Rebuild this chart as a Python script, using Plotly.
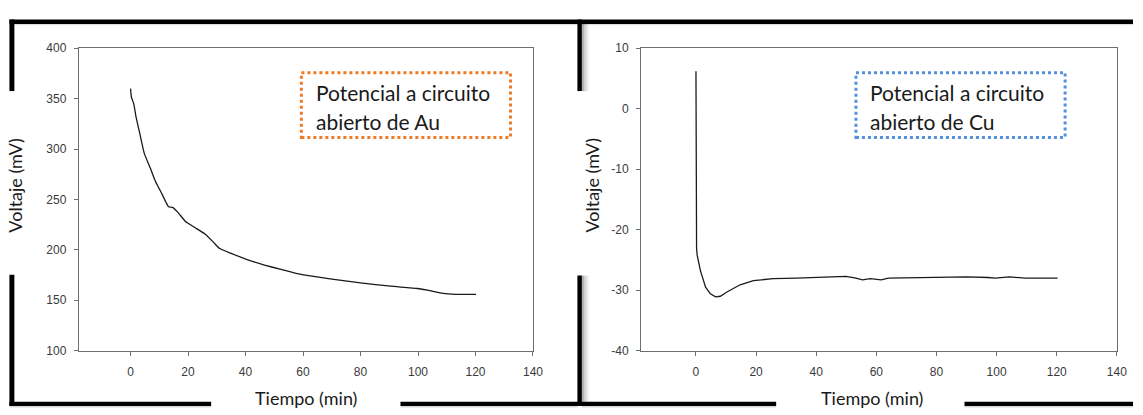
import plotly.graph_objects as go

# ---------------- data ----------------
au_t = [0, 0.3, 1.1, 1.9, 3.4, 4.8, 6.9, 8.6, 10.9, 13.2, 14.6, 16.7, 19.0, 22.5, 25.9,
        28.8, 31.0, 35.0, 40.8, 46.6, 52.3, 58.0, 60.2, 69.4, 80.0, 90.5, 99.8, 103.7,
        107.6, 111.6, 120.2]
au_v = [360, 351.5, 345, 332, 313, 295.5, 281, 268.4, 255.6, 242.8, 242.2, 236.5, 228.5,
        222, 215.7, 207.7, 201.3, 196.5, 190.2, 185.0, 180.6, 176.4, 175.2, 171.2, 167.3,
        164.0, 161.7, 159.8, 157.4, 156.2, 155.8]

cu_t = [0, 0.02, 0.05, 0.2, 0.4, 1.5, 3.2, 4.8, 6.5, 8.1, 10.3, 14.7, 19.1, 25.7, 33.4,
        42.2, 49.9, 53.2, 55.4, 58.0, 61.6, 64.0, 78.2, 90.0, 97.2, 99.5, 104.3, 109.6, 120.3]
cu_v = [6.2, -10, -17.3, -23.1, -24.2, -26.8, -29.5, -30.6, -31.1, -31.0, -30.3, -29.1,
        -28.4, -28.1, -28.0, -27.9, -27.7, -28.0, -28.3, -28.1, -28.3, -28.0, -27.9, -27.8,
        -27.9, -28.0, -27.8, -28.0, -28.0]

x_ticks = [0, 20, 40, 60, 80, 100, 120, 140]
au_y_ticks = [100, 150, 200, 250, 300, 350, 400]
cu_y_ticks = [-40, -30, -20, -10, 0, 10]

x_title = "Tiempo (min)"
y_title = "Voltaje (mV)"
au_label = ["Potencial a circuito", "abierto de Au"]
cu_label = ["Potencial a circuito", "abierto de Cu"]

# ---------------- layout helpers ----------------
W, H = 1143, 415


def px(x):
    return x / W


def py(y):
    return 1 - y / H


TEXT_FONT = "Lato"
TICK_FONT = dict(family="Liberation Sans, Arial", size=12, color="#3a3a3a")
AXIS_COLOR = "#6e6e6e"

fig = go.Figure()
fig.add_trace(go.Scatter(x=au_t, y=au_v, mode="lines", xaxis="x", yaxis="y",
                         line=dict(color="#1a1a1a", width=1.3, shape="spline",
                                   smoothing=0.4),
                         showlegend=False, hoverinfo="skip"))
fig.add_trace(go.Scatter(x=cu_t, y=cu_v, mode="lines", xaxis="x2", yaxis="y2",
                         line=dict(color="#1a1a1a", width=1.3), showlegend=False,
                         hoverinfo="skip"))

common_axis = dict(showline=True, linecolor=AXIS_COLOR, linewidth=1, mirror=True,
                   showgrid=False, zeroline=False, ticks="outside", ticklen=4,
                   tickcolor=AXIS_COLOR, tickwidth=1, tickfont=TICK_FONT)

ydom = [py(355.7), py(42.7)]

fig.update_layout(
    width=W, height=H,
    margin=dict(l=0, r=0, t=0, b=0),
    paper_bgcolor="white", plot_bgcolor="white",
    xaxis=dict(domain=[px(79.5), px(537.7)], range=[-18.0, 140], tickvals=x_ticks,
               ticktext=[str(v) for v in x_ticks],
               anchor="y", ticklabelstandoff=6, **common_axis),
    yaxis=dict(domain=ydom, range=[100, 400], tickvals=au_y_ticks,
               ticktext=[str(v) for v in au_y_ticks], anchor="x",
               ticklabelstandoff=5, **common_axis),
    xaxis2=dict(domain=[px(646.7), px(1126.7)], range=[-18.27, 140], tickvals=x_ticks,
                ticktext=[str(v) for v in x_ticks],
                anchor="y2", ticklabelstandoff=6, **common_axis),
    yaxis2=dict(domain=ydom, range=[-40, 10], tickvals=cu_y_ticks,
                ticktext=[str(v) for v in cu_y_ticks], anchor="x2",
                ticklabelstandoff=5, **common_axis),
)

shapes = []


def bar(x0, x1, y0, y1, color="black"):
    shapes.append(dict(type="rect", xref="paper", yref="paper", x0=px(x0), x1=px(x1),
                       y0=py(y1), y1=py(y0), fillcolor=color, line=dict(width=0),
                       layer="above"))


# soft shadows of the frame pieces
for (a0, a1, alpha) in [(587, 589.5, 0.30), (589.5, 592, 0.15), (592, 594, 0.06)]:
    bar(a0, a1, 17.5, 87, "rgba(0,0,0,%.2f)" % alpha)
    bar(a0, a1, 278, 408.5, "rgba(0,0,0,%.2f)" % alpha)
bar(9.5, 1143, 17.5, 19, "rgba(0,0,0,0.12)")
for (s0, s1) in [(9.5, 213), (404, 582.5), (587, 783), (973, 1143)]:
    bar(s0, s1, 413, 414.5, "rgba(0,0,0,0.15)")

# black frame pieces
bar(9.5, 1143, 13, 17.5)
bar(9.5, 14.5, 13, 87)
bar(9.5, 14.5, 277, 413)
bar(9.5, 213, 408.5, 413)
bar(404, 587, 408.5, 413)
bar(582.5, 587, 13, 87)
bar(582.5, 587, 278, 413)
bar(583, 783, 408.5, 413)
bar(973, 1143, 408.5, 413)

# dotted label boxes
for (bx0, bx1, col) in [(304, 515, "#EC7A26"), (863.5, 1074.5, "#5590DD")]:
    shapes.append(dict(type="rect", xref="paper", yref="paper", x0=px(bx0), x1=px(bx1),
                       y0=py(135), y1=py(68), line=dict(color=col, width=3, dash="dot"),
                       fillcolor="rgba(0,0,0,0)"))

annotations = []
for (tx, lines) in [(317, au_label), (876, cu_label)]:
    for ty, txt in zip([89, 118], lines):
        annotations.append(dict(text=txt, xref="paper", yref="paper", x=px(tx), y=py(ty),
                                xanchor="left", yanchor="middle", showarrow=False,
                                font=dict(family=TEXT_FONT, size=21, color="#1a1a1a")))

for cx in [309, 879.7]:
    annotations.append(dict(text=x_title, xref="paper", yref="paper", x=px(cx), y=py(405),
                            xanchor="center", yanchor="middle", showarrow=False,
                            font=dict(family=TEXT_FONT, size=18, color="#1a1a1a")))
for cx in [15, 597]:
    annotations.append(dict(text=y_title, xref="paper", yref="paper", x=px(cx), y=py(184),
                            xanchor="center", yanchor="middle", showarrow=False,
                            textangle=-90,
                            font=dict(family=TEXT_FONT, size=18, color="#1a1a1a")))

fig.update_layout(shapes=shapes, annotations=annotations)
fig.write_html(
    "out.html",
    config={"displayModeBar": False},
    post_script="document.body.style.margin='0';document.body.style.padding='0';"
                "document.documentElement.style.overflow='hidden';",
)
